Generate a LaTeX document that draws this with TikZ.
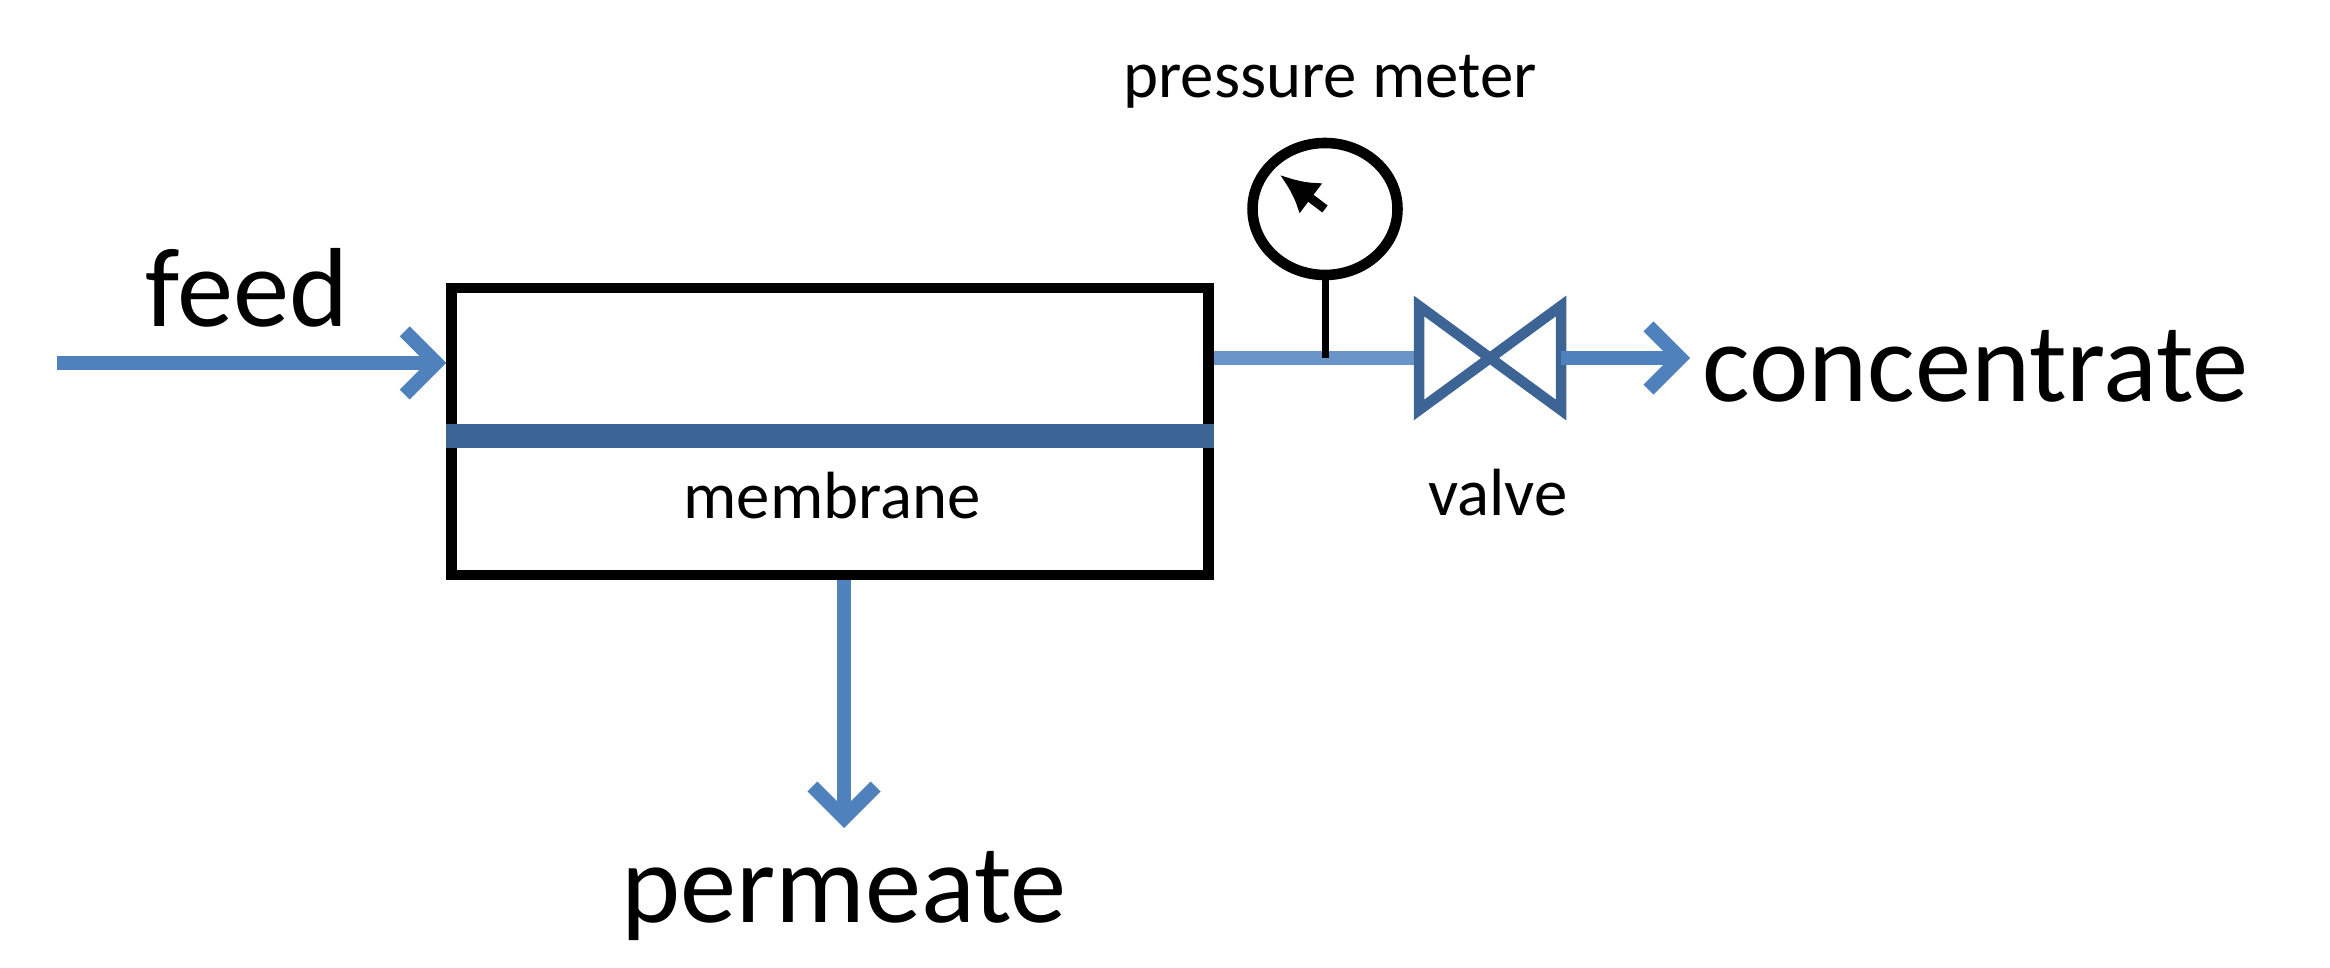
\documentclass[tikz,border=0pt]{standalone}
\usepackage{fontspec}
\setmainfont{Carlito}
\usetikzlibrary{arrows.meta,shapes.geometric}
\definecolor{flow}{HTML}{4F81BD}
\definecolor{dflow}{HTML}{3C6494}
\tikzset{
  stream/.style={flow, line width=4pt, -{Straight Barb[length=9pt,width=18pt,line width=4pt]}},
  big/.style={font=\fontsize{32}{36}\selectfont},
  small/.style={font=\fontsize{19}{22}\selectfont}
}
\begin{document}
\begin{tikzpicture}
\useasboundingbox (0,0) rectangle (23.30,9.68);

% module and membrane
\node[draw, line width=3pt, minimum width=7.57cm, minimum height=2.87cm, inner sep=0] (box) at (8.30,5.365) {};
\draw[dflow, line width=7pt] (box.west |- 0,5.32) -- (box.east |- 0,5.32);
\node[small] (mem) at (8.32,4.72) {membrane};

% feed
\coordinate (fin) at (0.57,6.05);
\draw[stream] (fin) -- (box.west |- fin);
\node[big] (feed) at (2.47,6.80) {feed};

% permeate
\coordinate (pout) at (8.44,1.40);
\draw[stream] (box.south -| pout) -- (pout);
\node[big] (perm) at (8.44,0.72) {permeate};

% concentrate line
\coordinate (vl) at (14.19,6.10);
\coordinate (vc) at (14.90,6.10);
\coordinate (vr) at (15.61,6.10);
\draw[flow!85!white, line width=4pt] (box.east |- vl) -- (vl);
\draw[dflow, line width=3pt, line join=miter] (vc) -- (14.19,6.62) -- (14.19,5.58) -- cycle
  (vc) -- (15.61,6.62) -- (15.61,5.58) -- cycle;
\node[big, anchor=west] (conc) at (16.90,6.02) {concentrate};
\draw[stream] (vr) -- (vr -| conc.west);
\node[small] (valve) at (14.98,4.75) {valve};

% pressure meter
\node[draw, ellipse, line width=3pt, minimum width=1.45cm, minimum height=1.32cm, inner sep=0] (gauge) at (13.25,7.59) {};
\draw[line width=2pt] (gauge.south) -- (gauge.south |- vl);
\draw[line width=2.5pt, -{Latex[length=11pt,width=11pt]}] (gauge.center) -- ++(-0.45,0.34);
\node[small] (pm) at (13.30,8.86) {pressure meter};
\end{tikzpicture}
\end{document}
